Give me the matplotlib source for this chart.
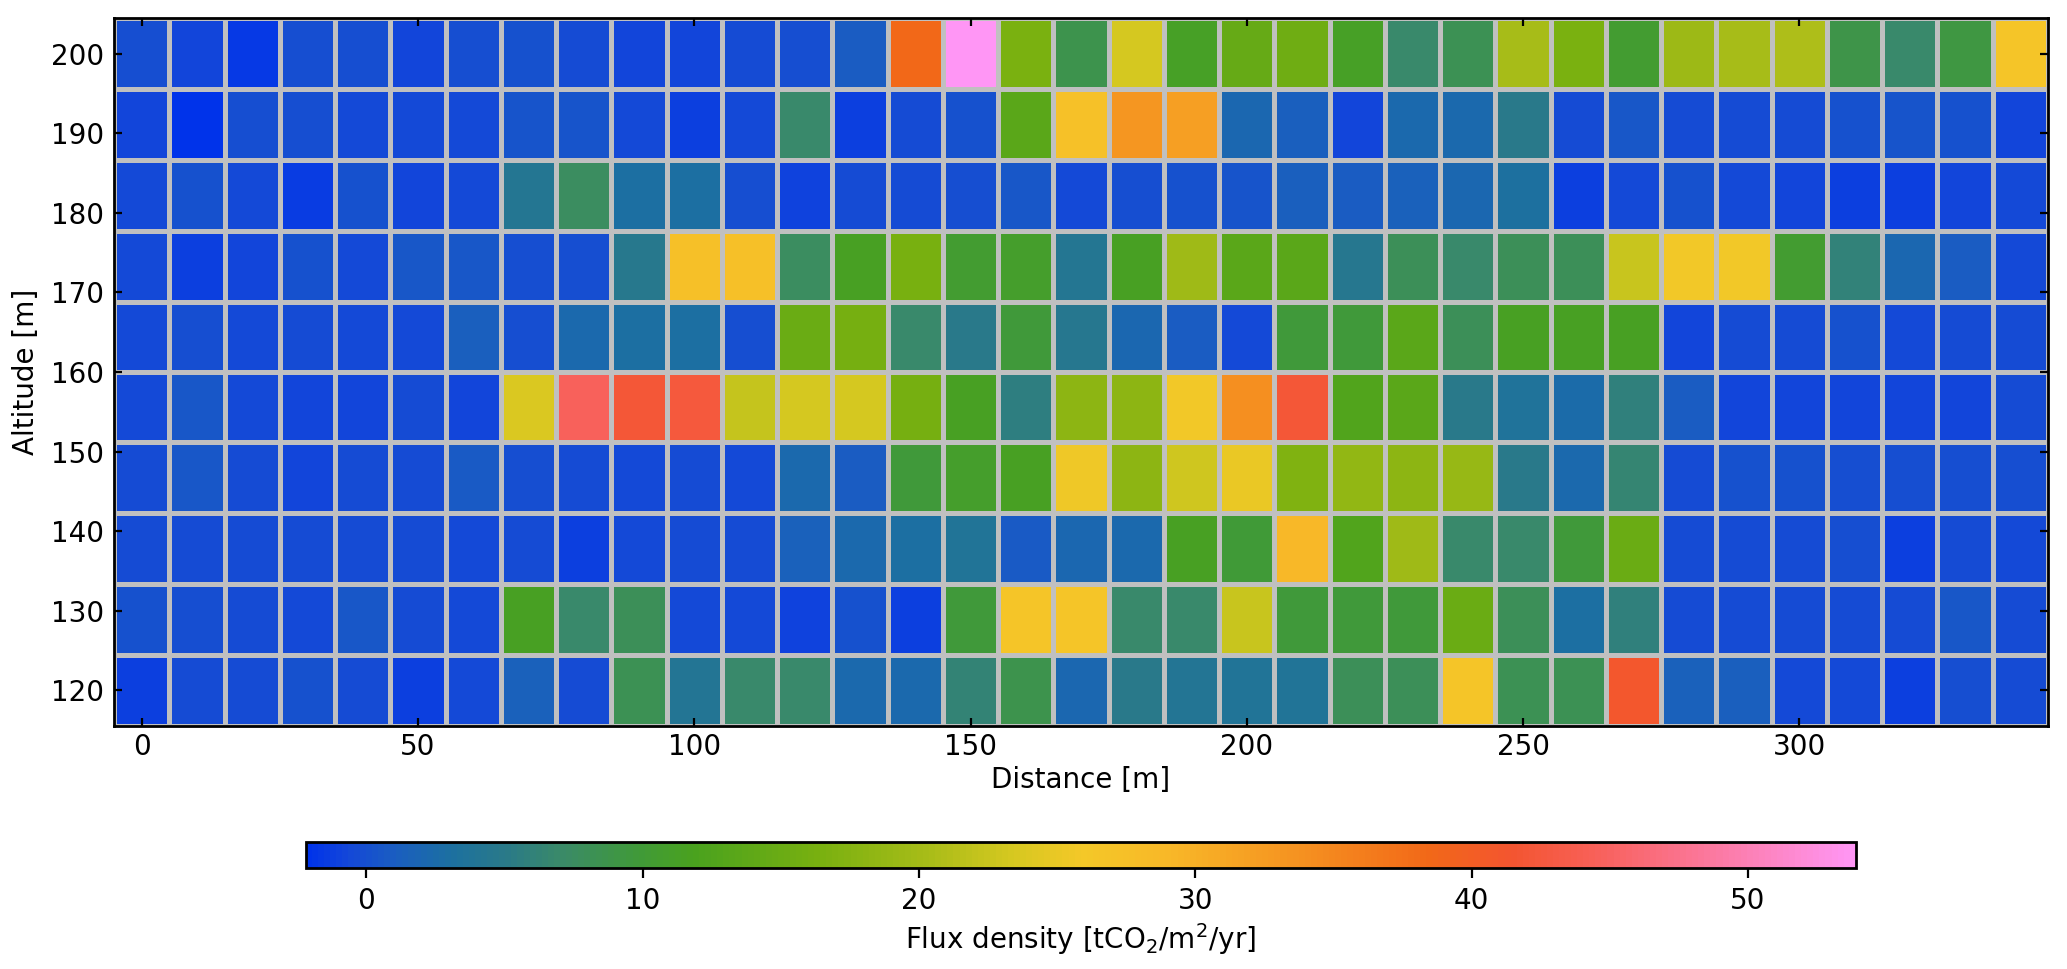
import numpy as np
import matplotlib
matplotlib.use("Agg")
import matplotlib.pyplot as plt
from matplotlib.colors import LinearSegmentedColormap
from matplotlib.ticker import MultipleLocator

# Distancia a lo largo del perfil [m] y altitud de cada fila [m]
distance = [0, 10, 20, 30, 40, 50, 60, 70, 80, 90, 100, 110, 120, 130, 140, 150, 160,
            170, 180, 190, 200, 210, 220, 230, 240, 250, 260, 270, 280, 290, 300, 310,
            320, 330, 340]
altitude_top_down = [200.0, 191.1, 182.2, 173.3, 164.4, 155.6, 146.7, 137.8, 128.9, 120.0]

# Densidad de flujo [tCO2/m2/yr], filas de arriba (200 m) hacia abajo (120 m)
row_200 = [-0.1, -0.7, -1.7, -0.1, -0.1, -0.7, -0.2, 0.2, -0.3, -0.7, -0.7, -0.3,
           -0.2, 0.9, 38.5, 53.9, 16.5, 8.7, 23.3, 11.3, 14.6, 15.5, 11.3, 7.0,
           8.2, 20.3, 16.5, 10.5, 19.3, 20.3, 20.8, 8.8, 7.0, 9.3, 26.5]
row_191 = [-0.7, -2.2, -0.1, -0.1, -0.6, -0.6, -0.6, 0.4, 0.4, -0.6, -1.2, -0.6,
           7.0, -1.3, -0.3, 0.0, 13.5, 27.2, 33.2, 32.0, 2.0, 1.2, -0.7, 2.2,
           2.2, 5.0, -0.3, 0.5, -0.3, -0.3, -0.3, 0.2, 0.4, 0.2, -0.8]
row_182 = [-0.6, 0.0, -0.6, -1.5, 0.0, -0.7, -0.6, 4.2, 7.5, 3.0, 3.0, -0.2,
           -0.9, -0.3, -0.3, -0.2, 0.5, -0.6, -0.2, 0.2, 0.3, 1.3, 1.0, 1.5,
           2.0, 3.2, -1.2, -0.6, 0.2, -0.6, -0.7, -1.2, -1.2, -0.7, -0.5]
row_173 = [-0.6, -1.3, -0.8, 0.2, -0.6, 0.5, 0.5, -0.2, -0.2, 4.8, 27.5, 27.5,
           7.5, 11.5, 16.3, 10.5, 10.8, 4.2, 11.5, 19.5, 13.5, 13.5, 4.5, 8.0,
           7.0, 8.0, 8.0, 22.5, 25.8, 25.8, 10.5, 6.0, 2.0, 1.0, -0.6]
row_164 = [-0.6, -0.2, -0.6, -0.3, -0.6, -0.6, 1.2, -0.2, 2.2, 3.0, 3.0, -0.1,
           15.0, 16.0, 7.0, 5.0, 9.8, 4.5, 2.0, 1.0, -0.6, 9.8, 9.8, 13.5,
           8.0, 11.5, 11.5, 11.5, -0.7, -0.3, -0.3, 0.2, -0.5, -0.3, -0.3]
row_156 = [-0.6, 0.6, -0.6, -0.7, -0.7, -0.3, -0.7, 23.8, 44.5, 42.0, 42.5, 22.2,
           23.3, 23.3, 16.0, 11.5, 5.5, 18.0, 18.0, 25.8, 34.0, 42.0, 12.5, 13.5,
           5.0, 3.5, 2.5, 5.8, 1.0, -0.8, -0.8, -0.7, -0.8, -0.8, -0.3]
row_147 = [-0.3, 0.5, -0.3, -0.7, -0.3, -0.3, 0.7, -0.2, -0.3, -0.6, -0.3, -0.6,
           2.2, 1.0, 9.8, 10.8, 11.5, 25.5, 18.0, 23.0, 25.0, 17.0, 18.5, 18.0,
           19.0, 5.0, 2.3, 6.5, -0.3, 0.2, 0.2, -0.1, -0.2, -0.2, -0.2]
row_138 = [-0.3, -0.3, -0.3, -0.3, -0.3, -0.3, -0.6, -0.3, -1.3, -0.6, -0.3, -0.3,
           1.5, 2.2, 3.0, 3.8, 0.8, 2.0, 2.2, 11.5, 10.0, 29.0, 12.5, 19.5,
           7.0, 7.0, 9.8, 15.0, -0.3, -0.3, -0.3, -0.2, -1.2, -0.3, -0.6]
row_129 = [0.0, -0.2, -0.3, -0.6, 0.5, -0.3, -0.6, 11.5, 7.0, 8.0, -0.6, -0.6,
           -1.1, 0.2, -1.2, 9.8, 26.5, 26.5, 7.0, 7.0, 22.5, 9.8, 9.8, 9.8,
           15.0, 8.0, 3.0, 5.8, -0.3, -0.3, -0.3, -0.3, -0.3, 0.5, -0.3]
row_120 = [-1.3, -0.3, -0.3, 0.0, -0.3, -1.2, -0.6, 1.5, -0.3, 8.2, 4.0, 7.0,
           7.0, 2.3, 2.3, 6.3, 8.7, 2.0, 5.0, 4.0, 3.8, 3.8, 8.0, 8.0,
           26.5, 8.2, 8.2, 41.0, 1.5, 1.3, -0.5, -0.5, -1.3, -0.1, -0.4]

flux_rows = [row_200, row_191, row_182, row_173, row_164,
             row_156, row_147, row_138, row_129, row_120]

# Paleta: azul -> verde -> amarillo -> naranja -> rosa
cmap_values = [-2.2, -0.7, 1.0, 3.0, 5.0, 7.0, 9.8, 11.85, 16.3, 20.3, 23.3,
               25.9, 29.0, 34.0, 38.5, 41.5, 44.5, 53.9]
cmap_colors = ['#0033ea', '#1448d8', '#1a5ec0', '#1c70a0', '#2a7a88', '#3a8a68',
               '#409a38', '#4aa21e', '#78b010', '#a8bc18', '#d5c820', '#f4c828',
               '#f8b828', '#f59020', '#f26818', '#f35530', '#f86058', '#ff96f5']

plt.rcParams['font.family'] = 'DejaVu Sans'
plt.rcParams['font.size'] = 10

lo, hi = cmap_values[0], cmap_values[-1]
nodes = [(v - lo) / (hi - lo) for v in cmap_values]
cmap = LinearSegmentedColormap.from_list('flux', list(zip(nodes, cmap_colors)))

flux = np.array(flux_rows)[::-1]
alt = np.array(altitude_top_down)[::-1]
dist = np.array(distance)

fig = plt.figure(figsize=(10.335, 4.845), dpi=200)
ax = fig.add_axes([0.0552, 0.2511, 0.9356, 0.730])
cax = fig.add_axes([0.1478, 0.1045, 0.750, 0.0262])

mesh = ax.pcolormesh(dist, alt, flux, cmap=cmap, vmin=lo, vmax=hi,
                     shading='nearest', edgecolors='#c0c0c0', linewidth=1.1)

ax.set_xlabel('Distance [m]', labelpad=2)
ax.set_ylabel('Altitude [m]')
ax.yaxis.set_major_locator(MultipleLocator(10))
ax.xaxis.set_major_locator(MultipleLocator(50))
ax.tick_params(direction='in', top=True, right=True, length=3)
ax.tick_params(axis='x', pad=2.5)
for s in ax.spines.values():
    s.set_linewidth(1.0)

cb = fig.colorbar(mesh, cax=cax, orientation='horizontal')
cb.set_label('Flux density [tCO$_2$/m$^2$/yr]', labelpad=2)
cb.outline.set_linewidth(1.0)
cb.ax.tick_params(length=3.5)

fig.savefig('out.png', dpi=200)
